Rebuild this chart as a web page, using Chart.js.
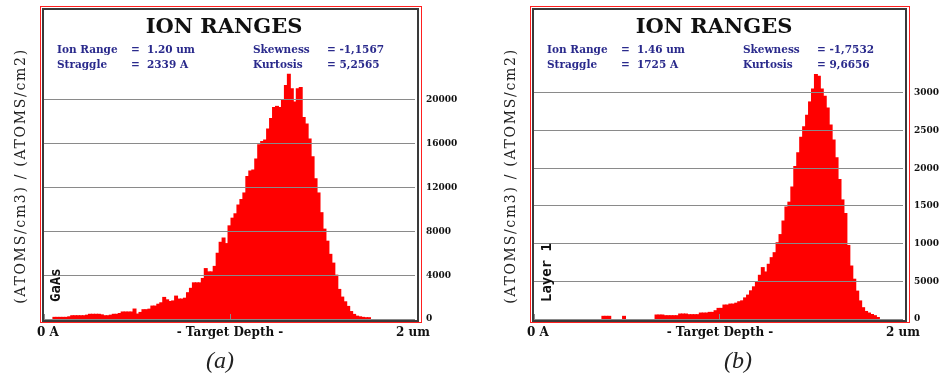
<!DOCTYPE html>
<html>
<head>
<meta charset="utf-8">
<title>Ion Ranges</title>
<script src="https://cdn.jsdelivr.net/npm/chart.js@4"></script>
<style>
  html, body { margin: 0; padding: 0; background: #fff; }
  body { position: relative; width: 939px; height: 376px; overflow: hidden; }
  .panel { position: absolute; top: 0; width: 470px; height: 376px; }
  .panel canvas { position: absolute; left: 0; top: 0; }
  .frame { position: absolute; box-sizing: border-box; }
  .red { left: 40px; top: 6px; height: 317px; border: 1px solid #ff1f1f; }
  .black { left: 42px; top: 8px; height: 314px; border: 2px solid #3a3a3a; }
  .txt { position: absolute; white-space: nowrap; line-height: 1; }
  .title { left: 0; width: 448px; top: 13px; text-align: center; font: bold 21px "DejaVu Serif"; color: #111; }
  .stat { font: bold 10.5px "DejaVu Serif"; color: #2a2a8c; }
  .axis { left: 20px; top: 176px; font: 14px "DejaVu Serif"; letter-spacing: 1.7px; color: #222;
          transform: translate(-50%, -50%) rotate(-90deg); }
  .layer { top: 302px; font: bold 14px "DejaVu Sans Mono"; color: #111; transform-origin: 0 0; transform: rotate(-90deg); }
  .depth { top: 325px; font: bold 12px "DejaVu Serif"; color: #111; }
  .caption { top: 347px; width: 60px; text-align: center; font: italic 24px "Liberation Serif"; color: #222; }
</style>
</head>
<body>
<div id="panelA" class="panel" style="left:0"></div>
<div id="panelB" class="panel" style="left:490px"></div>
<div class="txt caption" style="left:190px">(a)</div>
<div class="txt caption" style="left:708px">(b)</div>
<script>
const binCount = 125;
const depthLabels = Array.from({ length: binCount }, (_, i) => ((i + 0.5) * 2 / binCount).toFixed(3) + ' um');

// (ATOMS/cm3)/(ATOMS/cm2) per depth bin, 0..2 um
const ionsA = [
  0, 0, 0, 150, 150, 150, 150, 150, 200, 300,
  300, 300, 300, 300, 350, 430, 430, 430, 430, 380,
  300, 300, 350, 430, 430, 500, 640, 640, 640, 640,
  910, 450, 600, 850, 850, 900, 1180, 1180, 1350, 1480,
  1970, 1750, 1600, 1650, 2090, 1820, 1820, 1900, 2400, 2800,
  3300, 3300, 3300, 3700, 4600, 4300, 4300, 4800, 6000, 7000,
  7390, 6880, 8500, 9200, 9600, 10400, 10900, 11500, 13000, 13500,
  13600, 14600, 15900, 16200, 16330, 17340, 18300, 19300, 19400, 19300,
  20000, 21300, 22330, 21000, 19800, 21000, 21120, 18390, 17800, 16420,
  14800, 12800, 11500, 9700, 8200, 7100, 5900, 5100, 4000, 2700,
  2000, 1570, 1150, 680, 420, 260, 200, 150, 120, 120,
  0, 0, 0, 0, 0, 0, 0, 0, 0, 0,
  0, 0, 0, 0, 0
];

const ionsB = [
  0, 0, 0, 0, 0, 0, 0, 0, 0, 0,
  0, 0, 0, 0, 0, 0, 0, 0, 0, 0,
  0, 0, 0, 356, 356, 356, 0, 0, 0, 0,
  356, 0, 0, 0, 0, 0, 0, 0, 0, 0,
  0, 530, 530, 530, 440, 440, 440, 440, 440, 660,
  660, 660, 575, 575, 575, 575, 790, 790, 790, 880,
  880, 1100, 1410, 1410, 1850, 1850, 1980, 1980, 2100, 2290,
  2410, 2800, 3170, 3740, 4270, 4840, 5800, 6820, 6240, 7260,
  8140, 8800, 10120, 11200, 13000, 14860, 15500, 17500, 20230, 22070,
  24100, 25500, 27040, 28800, 30500, 32450, 32190, 30500, 29550, 28000,
  25730, 23750, 21400, 18500, 15800, 14000, 9760, 7030, 5280, 3700,
  2400, 1500, 1000, 790, 600, 440, 200, 0, 0, 0,
  0, 0, 0, 0, 0
];

const ticksA = [0, 4000, 8000, 12000, 16000, 20000];
const ticksB = [0, 5000, 10000, 15000, 20000, 25000, 30000];
const depthMarks = [0, 1]; // um

const statsA = ['1.20 um', '2339 A', '-1,1567', '5,2565'];
const statsB = ['1.46 um', '1725 A', '-1,7532', '9,6656'];

// small tick marks standing on the depth axis
const depthMarkPlugin = {
  id: 'depthMarks',
  afterDatasetsDraw(chart) {
    const { ctx, chartArea, scales } = chart;
    ctx.save();
    ctx.strokeStyle = '#8a8a8a';
    ctx.lineWidth = 1;
    depthMarks.forEach(um => {
      const px = Math.round(scales.x.getPixelForValue(um / 2 * binCount - 0.5)) + 0.5;
      ctx.beginPath();
      ctx.moveTo(px, chartArea.bottom);
      ctx.lineTo(px, chartArea.bottom - 5);
      ctx.stroke();
    });
    ctx.restore();
  }
};

function addText(parent, cls, text, style) {
  const d = document.createElement('div');
  d.className = 'txt ' + cls;
  d.textContent = text;
  Object.assign(d.style, style || {});
  parent.appendChild(d);
  return d;
}

function buildPanel(id, p) {
  const el = document.getElementById(id);

  const red = document.createElement('div');
  red.className = 'frame red';
  red.style.width = p.redWidth + 'px';
  el.appendChild(red);
  const black = document.createElement('div');
  black.className = 'frame black';
  black.style.width = p.blackWidth + 'px';
  el.appendChild(black);

  const canvas = document.createElement('canvas');
  canvas.width = 470;
  canvas.height = 376;
  el.appendChild(canvas);

  addText(el, 'title', 'ION RANGES');
  addText(el, 'stat', 'Ion Range', { left: '57px', top: '43px' });
  addText(el, 'stat', '=', { left: '131px', top: '43px' });
  addText(el, 'stat', p.stats[0], { left: '147px', top: '43px' });
  addText(el, 'stat', 'Straggle', { left: '57px', top: '58px' });
  addText(el, 'stat', '=', { left: '131px', top: '58px' });
  addText(el, 'stat', p.stats[1], { left: '147px', top: '58px' });
  addText(el, 'stat', 'Skewness', { left: '253px', top: '43px' });
  addText(el, 'stat', '= ' + p.stats[2], { left: '327px', top: '43px' });
  addText(el, 'stat', 'Kurtosis', { left: '253px', top: '58px' });
  addText(el, 'stat', '= ' + p.stats[3], { left: '327px', top: '58px' });

  addText(el, 'axis', '(ATOMS/cm3) / (ATOMS/cm2)');
  addText(el, 'layer', p.layer, { left: p.layerX + 'px' });

  addText(el, 'depth', '0 A', { left: '37px' });
  addText(el, 'depth', '- Target Depth -', { left: '130px', width: '200px', textAlign: 'center' });
  addText(el, 'depth', '2 um', { left: '330px', width: '100px', textAlign: 'right' });

  new Chart(canvas.getContext('2d'), {
    type: 'bar',
    data: {
      labels: depthLabels,
      datasets: [{
        data: p.values,
        backgroundColor: c => c.raw > 0 ? '#ff0000' : 'rgba(0,0,0,0)',
        borderWidth: 0,
        barPercentage: 1,
        categoryPercentage: 1,
        inflateAmount: 0.5
      }]
    },
    options: {
      responsive: false,
      animation: false,
      devicePixelRatio: 1,
      layout: { padding: { left: 44, top: 68, right: 0, bottom: 57 } },
      plugins: { legend: { display: false }, tooltip: { enabled: false } },
      scales: {
        x: { display: false },
        y: {
          position: 'right',
          min: 0,
          max: p.max,
          afterBuildTicks: s => { s.ticks = p.ticks.map(v => ({ value: v })); },
          afterFit: s => { s.width = p.axisWidth; },
          grid: { color: '#8a8a8a', lineWidth: 1, drawTicks: false, z: 1 },
          border: { display: false },
          ticks: {
            padding: 11,
            color: '#111',
            font: { family: 'DejaVu Serif', weight: 'bold', size: 9 },
            callback: v => String(v)
          }
        }
      }
    },
    plugins: [depthMarkPlugin]
  });
}

document.addEventListener('DOMContentLoaded', function() {
  buildPanel('panelA', {
    values: ionsA, ticks: ticksA, max: 22900, stats: statsA,
    layer: 'GaAs', layerX: 47, axisWidth: 55, redWidth: 382, blackWidth: 377
  });
  buildPanel('panelB', {
    values: ionsB, ticks: ticksB, max: 33300, stats: statsB,
    layer: 'Layer 1', layerX: 48, axisWidth: 57, redWidth: 380, blackWidth: 375
  });
});
</script>
</body>
</html>
